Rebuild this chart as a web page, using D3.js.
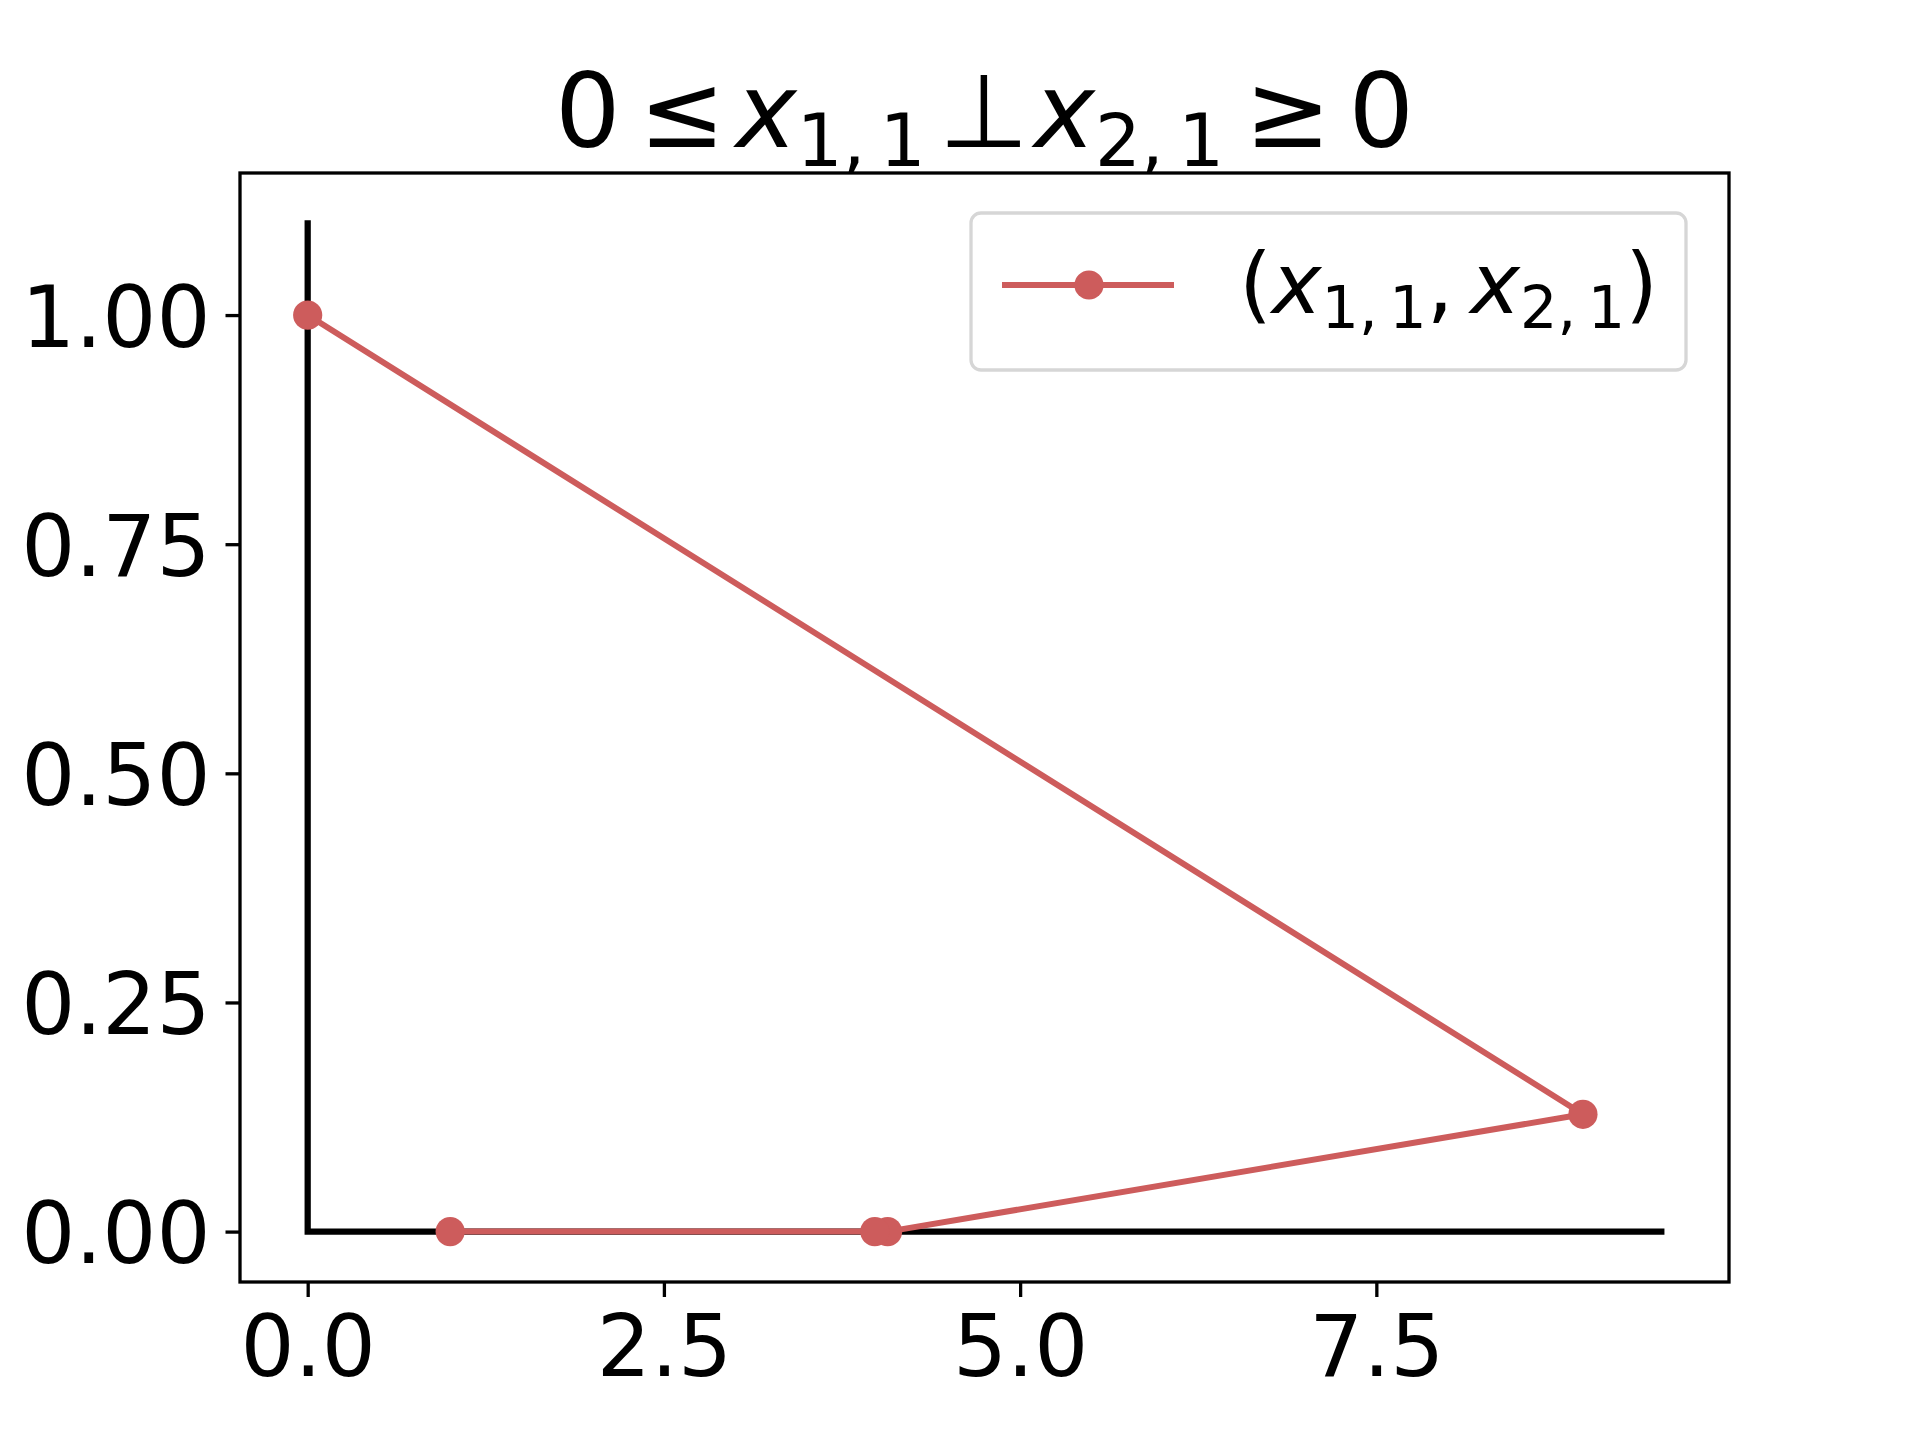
<!DOCTYPE html>
<meta charset="utf-8">
<html>
  <head>
    <style>
      body { margin: 0; background: #fff; }
      text { font-family: "DejaVu Sans", sans-serif; fill: #000; }
      .tick text { font-size: 85px; }
      .tick line { stroke: #000; stroke-width: 3.3px; }
    </style>
    <script src="https://cdn.jsdelivr.net/npm/d3@7"></script>
  </head>
  <body>
    <div id="chart"></div>
    <script>
      // data
      var xVals = [0, 8.95, 4.07, 3.98, 1];
      var yVals = [1, 0.128, 0, 0, 0];
      // the black "complementarity" axes drawn inside the plot
      var guideX = [0, 0, 9.5];
      var guideY = [1.1, 0, 0];
      var xTicks = [0, 2.5, 5, 7.5];
      var yTicks = [0, 0.25, 0.5, 0.75, 1];
      var xDomain = [-0.475, 9.975];
      var yDomain = [-0.055, 1.155];

      var red = "#cd5c5c";
      var W = 1920, H = 1440;
      var box = { left: 240, right: 1729, top: 173, bottom: 1282 };

      var svg = d3.select("#chart").append("svg")
          .attr("width", W).attr("height", H);

      var x = d3.scaleLinear().domain(xDomain).range([box.left, box.right]);
      var y = d3.scaleLinear().domain(yDomain).range([box.bottom, box.top]);

      // axes
      var xAxis = svg.append("g")
          .attr("transform", "translate(0," + box.bottom + ")")
          .call(d3.axisBottom(x).tickValues(xTicks).tickFormat(d3.format(".1f"))
                .tickSize(15).tickSizeOuter(0).tickPadding(18.5));
      xAxis.select(".domain").remove();

      var yAxis = svg.append("g")
          .attr("transform", "translate(" + box.left + ",0)")
          .call(d3.axisLeft(y).tickValues(yTicks).tickFormat(d3.format(".2f"))
                .tickSize(14.5).tickSizeOuter(0).tickPadding(15));
      yAxis.select(".domain").remove();
      yAxis.selectAll(".tick text").attr("dy", "0.365em");

      svg.append("rect")
          .attr("x", box.left).attr("y", box.top)
          .attr("width", box.right - box.left).attr("height", box.bottom - box.top)
          .attr("fill", "none").attr("stroke", "#000").attr("stroke-width", 3.3);

      var line = d3.line().x(function(d) { return x(d[0]); }).y(function(d) { return y(d[1]); });

      svg.append("path")
          .datum(d3.zip(guideX, guideY))
          .attr("d", line)
          .attr("fill", "none").attr("stroke", "#000").attr("stroke-width", 6.25)
          .attr("stroke-linejoin", "miter").attr("stroke-linecap", "square");

      var pts = d3.zip(xVals, yVals);
      svg.append("path")
          .datum(pts)
          .attr("d", line)
          .attr("fill", "none").attr("stroke", red).attr("stroke-width", 6)
          .attr("stroke-linejoin", "round");

      svg.selectAll(".pt").data(pts).enter().append("circle")
          .attr("class", "pt")
          .attr("cx", function(d) { return x(d[0]); })
          .attr("cy", function(d) { return y(d[1]); })
          .attr("r", 14.6)
          .attr("fill", red);

      // mathtext-ish labels built from tspans; gap is in em of the base size
      function mathText(g, parts, size) {
        var t = g.append("text").style("font-size", size + "px");
        var shift = 0;
        parts.forEach(function(p) {
          var s = p.sub ? Math.round(size * 0.18) : 0;
          t.append("tspan")
            .attr("dx", (p.gap || 0) * size)
            .attr("dy", s - shift)
            .style("font-size", (p.sub ? size * 0.7 : size) + "px")
            .style("font-style", p.it ? "oblique" : "normal")
            .text(p.t);
          shift = s;
        });
        return t;
      }

      var titleParts = [
        {t: "0"}, {t: "\u2264", gap: 0.18}, {t: "x", it: true, gap: 0.1}, {t: "1,\u20091", sub: true},
        {t: "\u22a5", gap: 0.13}, {t: "x", it: true, gap: 0.05}, {t: "2,\u20091", sub: true},
        {t: "\u2265", gap: 0.2}, {t: "0", gap: 0.17}
      ];
      mathText(svg, titleParts, 103)
          .attr("x", (box.left + box.right) / 2).attr("y", 147)
          .attr("text-anchor", "middle");

      // legend
      var leg = svg.append("g");
      leg.append("rect")
          .attr("x", 971).attr("y", 213).attr("width", 715).attr("height", 157)
          .attr("rx", 10).attr("ry", 10)
          .attr("fill", "#fff").attr("stroke", "#d6d6d6").attr("stroke-width", 3.3);
      leg.append("line")
          .attr("x1", 1002).attr("x2", 1174).attr("y1", 285).attr("y2", 285)
          .attr("stroke", red).attr("stroke-width", 6);
      leg.append("circle").attr("cx", 1089).attr("cy", 285).attr("r", 14.6).attr("fill", red);

      var legParts = [
        {t: "("}, {t: "x", it: true}, {t: "1,\u20091", sub: true}, {t: ","},
        {t: "x", it: true, gap: 0.2}, {t: "2,\u20091", sub: true}, {t: ")"}
      ];
      mathText(leg, legParts, 84).attr("x", 1239).attr("y", 313);
    </script>
  </body>
</html>
